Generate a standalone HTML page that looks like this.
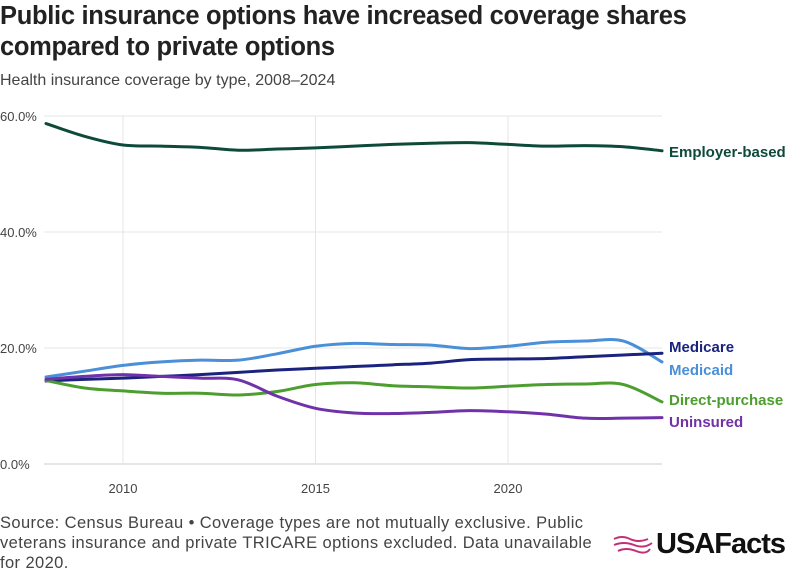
<!DOCTYPE html>
<html><head><meta charset="utf-8"><style>
body{margin:0;background:#fff;font-family:"Liberation Sans",sans-serif;}
#wrap{position:relative;width:794px;height:575px;overflow:hidden;}
h1{position:absolute;left:0;top:1px;margin:0;font-size:25.5px;line-height:31px;font-weight:bold;color:#222;letter-spacing:-0.3px;}
.sub{position:absolute;left:0;top:72px;font-size:16px;color:#444;}
.src{position:absolute;left:0;top:513px;font-size:16.5px;line-height:20px;color:#444;white-space:nowrap;letter-spacing:0.4px;}
.logo{position:absolute;left:656px;top:528px;font-size:29px;font-weight:bold;color:#111;letter-spacing:-1px;}
</style></head><body>
<div id="wrap">
<h1>Public insurance options have increased coverage shares<br>compared to private options</h1>
<div class="sub">Health insurance coverage by type, 2008–2024</div>
<svg id="chart" width="794" height="575" style="position:absolute;left:0;top:0"></svg>
<div class="src">Source: Census Bureau • Coverage types are not mutually exclusive. Public<br>veterans insurance and private TRICARE options excluded. Data unavailable<br>for 2020.</div>
<svg style="position:absolute;left:612px;top:533px" width="42" height="26"><path d="M2 6 Q10 2 18 6 T36 6 M2 12 Q12 8 22 12 T40 10 M6 18 Q14 14 24 18 T38 16" stroke="#c2307a" stroke-width="2" fill="none"/></svg>
<div class="logo">USAFacts</div>
</div>
<script>
const years=[2008,2009,2010,2011,2012,2013,2014,2015,2016,2017,2018,2019,2020,2021,2022,2023,2024];
const employer=[58.7,56.5,55,54.8,54.6,54.1,54.3,54.5,54.8,55.1,55.3,55.4,55.1,54.8,54.9,54.7,54.0];
const medicaid=[15,16,17,17.6,17.9,17.9,19,20.3,20.8,20.6,20.5,19.9,20.3,21,21.2,21.2,17.6];
const medicare=[14.3,14.6,14.8,15.1,15.4,15.8,16.2,16.5,16.8,17.1,17.4,18,18.1,18.2,18.5,18.8,19.1];
const direct=[14.4,13.1,12.6,12.2,12.2,11.9,12.5,13.7,14.0,13.5,13.3,13.1,13.4,13.7,13.8,13.7,10.7];
const uninsured=[14.6,15.1,15.4,15.1,14.8,14.5,11.7,9.6,8.8,8.7,8.9,9.2,9.0,8.6,7.9,7.9,8.0];
const yTicks=[0,20,40,60];
const xTicks=[2010,2015,2020];
const NS="http://www.w3.org/2000/svg";
const svg=document.getElementById('chart');
const x=v=>46+(v-2008)*(616/16);
const y=v=>464-v*5.8;
function mk(t,a){const e=document.createElementNS(NS,t);for(const k in a)e.setAttribute(k,a[k]);svg.appendChild(e);return e;}
yTicks.forEach(t=>{
 const l=mk('line',{x1:44,x2:662,y1:y(t),y2:y(t),stroke:t===0?'#ccc':'#e4e4e4','stroke-width':1});
 
 
 const tx=mk('text',{x:0,y:y(t)+5,'font-size':13,fill:'#444','font-family':'Liberation Sans'});
 tx.textContent=t.toFixed(1)+'%';
 
 
});
xTicks.forEach(t=>{
 const l=mk('line',{x1:x(t),x2:x(t),y1:116,y2:464,stroke:'#e4e4e4','stroke-width':1});
 
 
 const tx=mk('text',{x:x(t),y:493,'font-size':13,fill:'#444','text-anchor':'middle','font-family':'Liberation Sans'});
 tx.textContent=t;
 
 
});
function path(vals){
 const p=vals.map((v,i)=>[x(years[i]),y(v)]);
 let d='M'+p[0][0]+' '+p[0][1];
 for(let i=0;i<p.length-1;i++){
  const p0=p[Math.max(i-1,0)],p1=p[i],p2=p[i+1],p3=p[Math.min(i+2,p.length-1)];
  const c1=[p1[0]+(p2[0]-p0[0])/6,p1[1]+(p2[1]-p0[1])/6];
  const c2=[p2[0]-(p3[0]-p1[0])/6,p2[1]-(p3[1]-p1[1])/6];
  d+=` C${c1[0]} ${c1[1]} ${c2[0]} ${c2[1]} ${p2[0]} ${p2[1]}`;
 }
 return d;
}
const series=[
 {n:'employer-based',v:employer,c:'#0d4a3a',l:'Employer-based',ly:157},
 {n:'medicaid',v:medicaid,c:'#4a8fd8',l:'Medicaid',ly:375},
 {n:'medicare',v:medicare,c:'#1a237e',l:'Medicare',ly:352},
 {n:'direct-purchase',v:direct,c:'#4c9e2e',l:'Direct-purchase',ly:405},
 {n:'uninsured',v:uninsured,c:'#6f32a8',l:'Uninsured',ly:427}
];
series.forEach(s=>{
 const p=mk('path',{d:path(s.v),fill:'none',stroke:s.c,'stroke-width':3,'stroke-linecap':'round'});
 
 
 const t=mk('text',{x:669,y:s.ly,'font-size':15,'font-weight':'bold',fill:s.c,'font-family':'Liberation Sans'});
 t.textContent=s.l;
 
 
});
</script>
</body></html>
